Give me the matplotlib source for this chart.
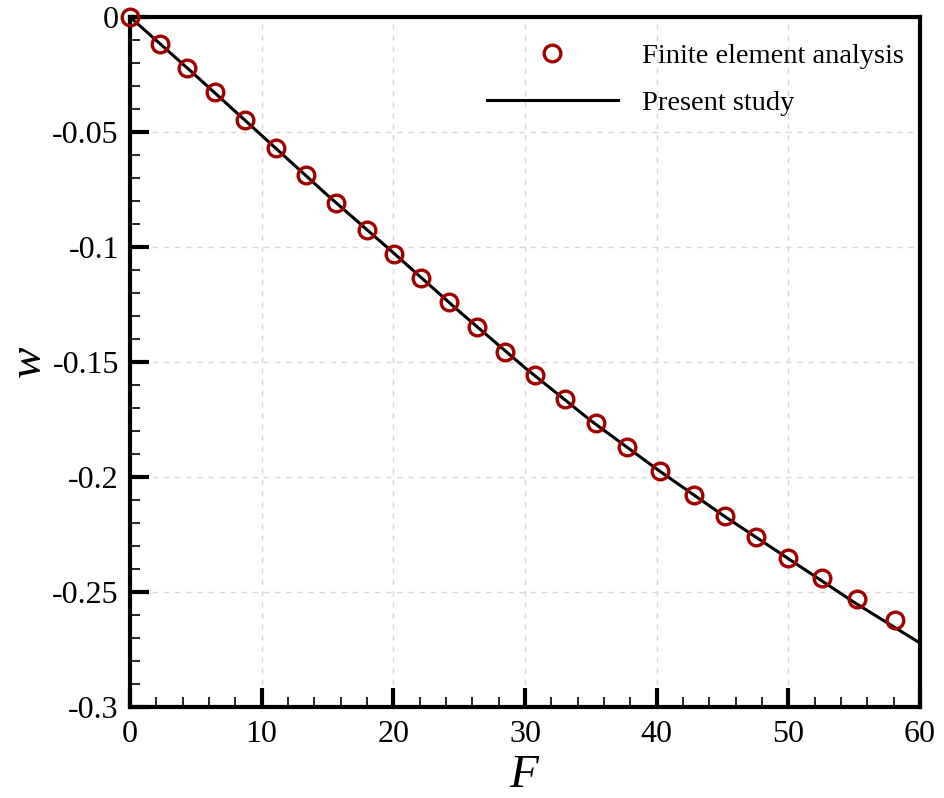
import matplotlib
matplotlib.use("Agg")
import matplotlib.pyplot as plt
from matplotlib.ticker import MultipleLocator

plt.rcParams['font.family'] = ['Liberation Serif', 'DejaVu Serif']
plt.rcParams['mathtext.fontset'] = 'custom'
plt.rcParams['mathtext.it'] = 'Liberation Serif:italic'

# Finite element analysis points
fea_F = [0, 2.28, 4.33, 6.46, 8.73, 11.09, 13.37, 15.65, 18.0, 20.05, 22.1, 24.23,
         26.35, 28.48, 30.76, 33.04, 35.39, 37.75, 40.25, 42.83, 45.19, 47.54,
         49.97, 52.56, 55.2, 58.1]
fea_w = [0, -0.0117, -0.0222, -0.0326, -0.0448, -0.0570, -0.0687, -0.0809, -0.0926,
         -0.1030, -0.1135, -0.1239, -0.1348, -0.1457, -0.1557, -0.1661, -0.1765,
         -0.1870, -0.1974, -0.2078, -0.2170, -0.2261, -0.2352, -0.2439, -0.2530,
         -0.2622]

# Present study curve
study_F = [0, 5, 10, 15, 20, 25, 30, 35, 40, 45, 50, 55, 60]
study_w = [0, -0.0255, -0.0515, -0.0775, -0.1025, -0.128, -0.1525, -0.1755,
           -0.1965, -0.2165, -0.2355, -0.2545, -0.2722]

x_ticks = [0, 10, 20, 30, 40, 50, 60]
y_ticks = [0, -0.05, -0.1, -0.15, -0.2, -0.25, -0.3]
y_labels = ['0', '-0.05', '-0.1', '-0.15', '-0.2', '-0.25', '-0.3']

fig = plt.figure(figsize=(9.45, 7.98), dpi=100)
ax = fig.add_axes([130 / 945, 1 - 707 / 798, 790 / 945, 690 / 798])

ax.plot(fea_F, fea_w, linestyle='none', marker='o', markersize=12,
        markerfacecolor='none', markeredgecolor='#a00000', markeredgewidth=2.4,
        label='Finite element analysis', zorder=3, clip_on=False)
ax.plot(study_F, study_w, color='black', linewidth=2.2, label='Present study', zorder=2)

ax.set_xlim(0, 60)
ax.set_ylim(-0.3, 0)
ax.set_xticks(x_ticks)
ax.set_yticks(y_ticks)
ax.set_yticklabels(y_labels)
ax.xaxis.set_minor_locator(MultipleLocator(2))
ax.yaxis.set_minor_locator(MultipleLocator(0.01))

ax.tick_params(which='major', direction='in', length=14, width=3, labelsize=23,
               top=False, right=False, pad=8)
ax.tick_params(axis='x', which='major', pad=9)
ax.tick_params(which='minor', direction='in', length=7, width=1.2,
               top=False, right=False)

for s in ax.spines.values():
    s.set_linewidth(3)

ax.grid(True, which='major', linestyle=(0, (4, 4)), color='#d8d8d8', linewidth=1)
ax.set_axisbelow(True)

ax.set_xlabel(r'$F$', fontsize=34, labelpad=4)
ax.set_ylabel(r'$w$', fontsize=34, labelpad=1)

ax.legend(loc='upper right', frameon=False, fontsize=20.5, handlelength=4.6,
          handletextpad=0.85, labelspacing=0.75, borderaxespad=0.45,
          bbox_to_anchor=(1.0 + 8 / 790, 1.0 - 2 / 690))

fig.savefig('out.png', dpi=100)
